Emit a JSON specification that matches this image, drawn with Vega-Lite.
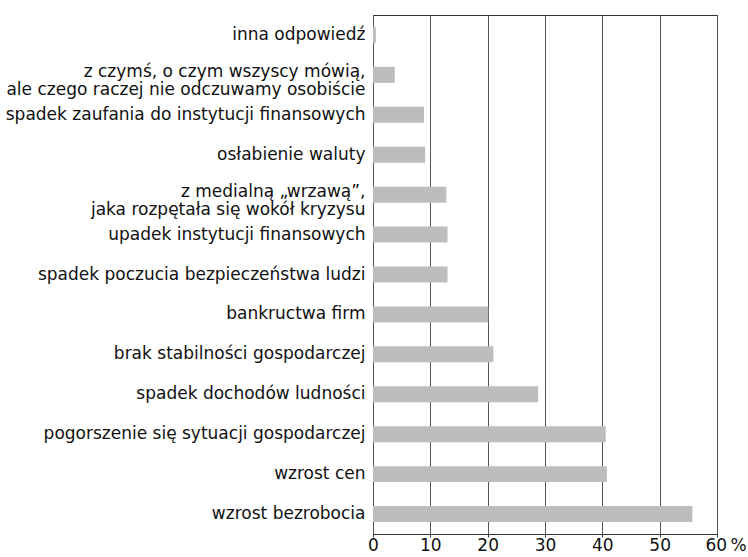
{
  "$schema": "https://vega.github.io/schema/vega-lite/v6.json",
  "width": 344,
  "height": 519,
  "autosize": {"type": "none"},
  "padding": {"left": 373, "top": 15, "right": 31, "bottom": 23},
  "background": "white",
  "config": {
    "view": {"stroke": "#333333", "strokeWidth": 1},
    "font": "DejaVu Sans"
  },
  "data": {
    "values": [
      {"answer": "inna odpowiedź", "pct": 0.5},
      {"answer": "z czymś, o czym wszyscy mówią,|ale czego raczej nie odczuwamy osobiście", "pct": 3.8},
      {"answer": "spadek zaufania do instytucji finansowych", "pct": 8.9},
      {"answer": "osłabienie waluty", "pct": 9.1},
      {"answer": "z medialną „wrzawą”,|jaka rozpętała się wokół kryzysu", "pct": 12.8},
      {"answer": "upadek instytucji finansowych", "pct": 13.0},
      {"answer": "spadek poczucia bezpieczeństwa ludzi", "pct": 13.0},
      {"answer": "bankructwa firm", "pct": 20.1},
      {"answer": "brak stabilności gospodarczej", "pct": 21.0},
      {"answer": "spadek dochodów ludności", "pct": 28.8},
      {"answer": "pogorszenie się sytuacji gospodarczej", "pct": 40.6},
      {"answer": "wzrost cen", "pct": 40.8},
      {"answer": "wzrost bezrobocia", "pct": 55.7}
    ]
  },
  "mark": {"type": "bar", "color": "#bdbdbf"},
  "encoding": {
    "y": {
      "field": "answer",
      "type": "nominal",
      "sort": null,
      "scale": {"paddingInner": 0.6, "paddingOuter": 0.3},
      "axis": {
        "title": null,
        "domain": false,
        "ticks": false,
        "labelPadding": 8,
        "labelFontSize": 17,
        "labelColor": "#111111",
        "labelLimit": 400,
        "labelLineHeight": 18,
        "labelExpr": "split(datum.label, '|')",
        "labelOffset": {"expr": "indexof(datum.value, '|') >= 0 ? -3 : 0"}
      }
    },
    "x": {
      "field": "pct",
      "type": "quantitative",
      "scale": {"domain": [0, 60], "nice": false},
      "axis": {
        "title": null,
        "values": [0, 10, 20, 30, 40, 50, 60],
        "domain": false,
        "grid": true,
        "gridColor": "#555555",
        "gridOpacity": 1,
        "gridWidth": 1,
        "tickSize": 3,
        "tickColor": "#333333",
        "labelPadding": 0,
        "labelFontSize": 17,
        "labelColor": "#111111",
        "labelFlush": false,
        "labelExpr": "datum.value == 60 ? '60\u2009%' : datum.label",
        "labelAlign": {"expr": "datum.value == 60 ? 'left' : 'center'"},
        "labelOffset": {"expr": "datum.value == 60 ? -12 : 0"}
      }
    }
  }
}
